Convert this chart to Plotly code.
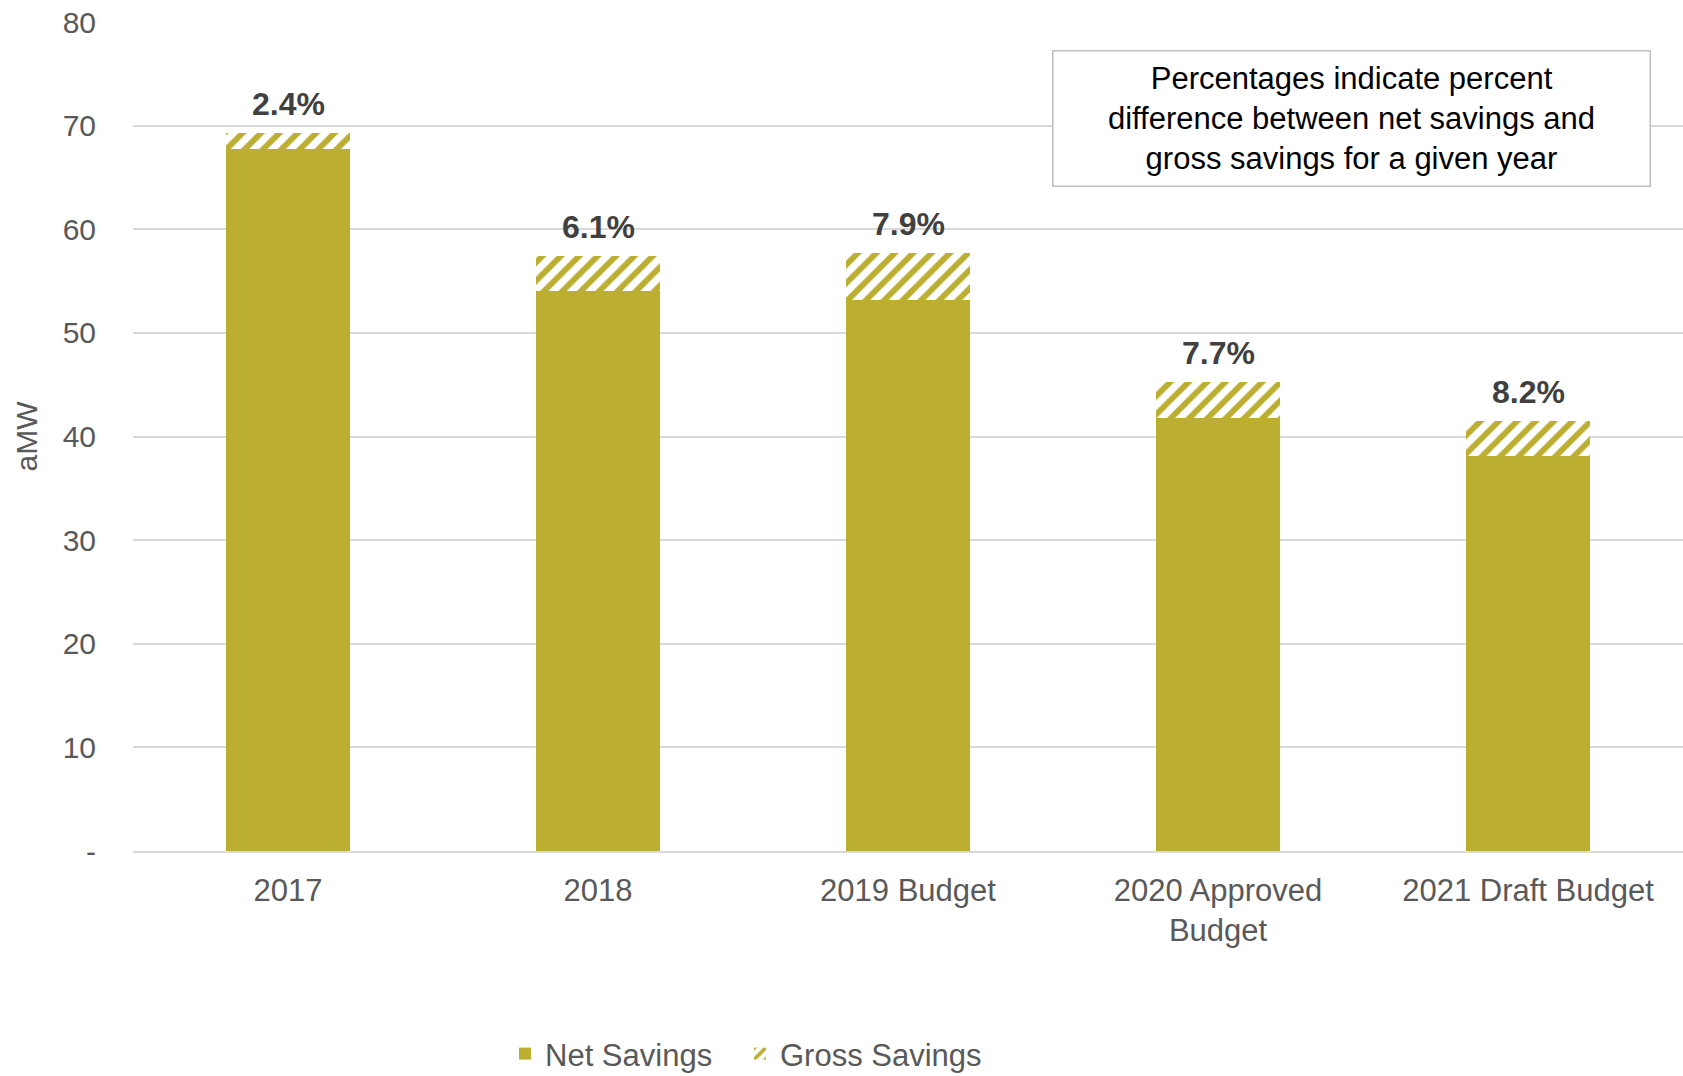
import plotly.graph_objects as go

# Savings by year (aMW)
categories = ["2017", "2018", "2019 Budget", "2020 Approved<br>Budget", "2021 Draft Budget"]
net_savings = [67.7, 54.0, 53.2, 41.8, 38.1]
gross_savings = [69.3, 57.4, 57.7, 45.3, 41.5]
pct_labels = ["2.4%", "6.1%", "7.9%", "7.7%", "8.2%"]

y_tickvals = [0, 10, 20, 30, 40, 50, 60, 70, 80]
y_ticktext = ["-", "10", "20", "30", "40", "50", "60", "70", "80"]

OLIVE = "#BBAE31"
FONT = "Liberation Sans, Arial, sans-serif"
TXT = "#595959"

# stacked upper segment = gross minus net
gross_extra = [g - n for g, n in zip(gross_savings, net_savings)]

fig = go.Figure()
fig.add_trace(go.Bar(
    x=categories, y=net_savings, name="Net Savings",
    marker=dict(color=OLIVE, line=dict(width=0)),
    hoverinfo="skip", legend="legend",
))
fig.add_trace(go.Bar(
    x=categories, y=gross_extra, name="Gross Savings",
    marker=dict(color="white", line=dict(width=0),
                pattern=dict(shape="/", fgcolor=OLIVE, bgcolor="white",
                             size=13, solidity=0.45, fillmode="replace")),
    hoverinfo="skip", legend="legend2",
))

# percentage labels above each gross bar (x given as category index)
for i, (g, lab) in enumerate(zip(gross_savings, pct_labels)):
    fig.add_annotation(
        x=i, y=g, text=f"<b>{lab}</b>", showarrow=False,
        yanchor="bottom", yshift=9,
        font=dict(family=FONT, size=32, color="#404040"),
    )

fig.add_annotation(
    xref="paper", yref="paper", x=0.786, y=0.966, xanchor="center", yanchor="top",
    text="Percentages indicate percent<br>difference between net savings and<br>gross savings for a given year",
    showarrow=False, align="center",
    font=dict(family=FONT, size=31, color="#000000"),
    bordercolor="#bfbfbf", borderwidth=1.5, borderpad=9, bgcolor="white",
    width=578,
)

legend_style = dict(orientation="h", xanchor="left",
                    yref="container", y=0.0205, yanchor="middle",
                    font=dict(family=FONT, size=31, color=TXT),
                    itemwidth=30, bgcolor="rgba(0,0,0,0)")

fig.update_layout(
    width=1683, height=1076,
    margin=dict(l=133, r=0, t=22, b=225),
    barmode="stack", bargap=0.6,
    plot_bgcolor="white", paper_bgcolor="white",
    font=dict(family=FONT, size=30, color=TXT),
    showlegend=True,
    legend=dict(x=0.24, **legend_style),
    legend2=dict(x=0.3916, **legend_style),
)
fig.update_xaxes(
    type="category", range=[-0.5, len(categories) - 0.5], automargin=False,
    showline=True, linecolor="#d9d9d9", linewidth=1.5,
    tickfont=dict(family=FONT, size=31, color=TXT),
    ticks="", ticklabelstandoff=11,
)
fig.update_yaxes(
    range=[0, 80], tickvals=y_tickvals, ticktext=y_ticktext, automargin=False,
    showgrid=True, gridcolor="#d9d9d9", gridwidth=1.5, zeroline=False,
    tickfont=dict(family=FONT, size=30, color=TXT), ticks="",
    ticklabelstandoff=36,
    title=dict(text="aMW", font=dict(family=FONT, size=30, color=TXT), standoff=16),
)

fig.write_html("out.html")
